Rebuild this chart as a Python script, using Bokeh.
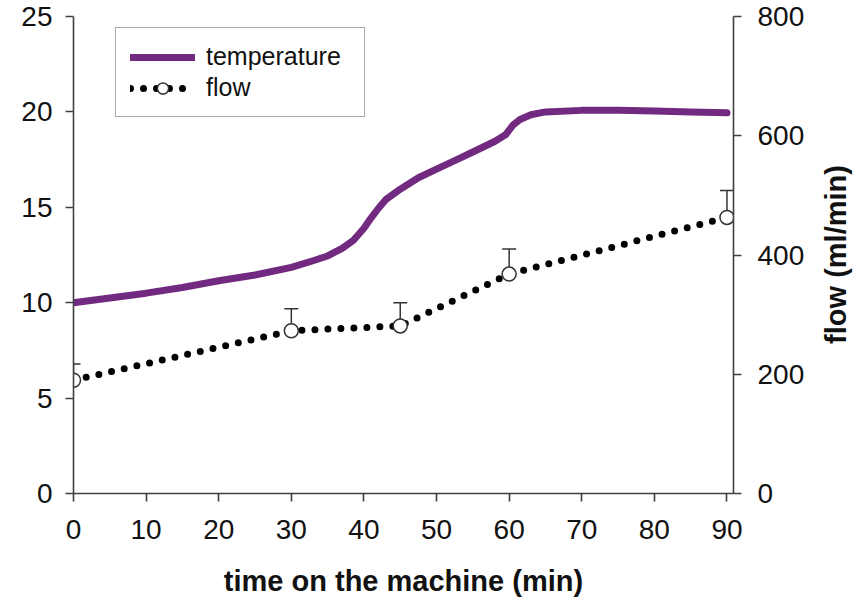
import math
from bokeh.plotting import figure
from bokeh.layouts import row
from bokeh.models import LinearAxis, Range1d, Legend, LegendItem, FixedTicker, Label
from bokeh.embed import file_html
from bokeh.resources import INLINE

# ---- data ----
temp_time = [0, 5, 10, 15, 20, 25, 30, 33, 35, 37, 38.5, 40, 41, 42, 43, 45, 47.5, 50,
             52.5, 55, 58, 59.5, 60.5, 61.5, 63, 65, 70, 75, 80, 85, 90]
temperature = [10.0, 10.25, 10.5, 10.8, 11.15, 11.45, 11.85, 12.2, 12.45, 12.85, 13.25,
               13.9, 14.45, 14.95, 15.4, 15.95, 16.55, 17.0, 17.45, 17.9, 18.45, 18.8,
               19.3, 19.6, 19.85, 20.0, 20.08, 20.08, 20.05, 20.0, 19.95]

flow_time = [0, 30, 45, 60, 90]
flow_mean = [190, 273, 281, 368, 463]
flow_upper = [217, 310, 320, 410, 508]

x_ticks = [0, 10, 20, 30, 40, 50, 60, 70, 80, 90]
left_ticks = [0, 5, 10, 15, 20, 25]
right_ticks = [0, 200, 400, 600, 800]

x_title = "time on the machine (min)"
right_title = "flow (ml/min)"

FONT = "Liberation Sans"
PURPLE = "#722A81"
AXIS = "#404040"

MAIN_W, SIDE_W, H = 820, 45, 599

p = figure(width=MAIN_W, height=H, x_range=Range1d(0, 90.9), y_range=Range1d(0, 25),
           output_backend="svg", toolbar_location=None,
           min_border_left=73, min_border_right=MAIN_W - 733, min_border_top=16,
           min_border_bottom=103)
p.extra_y_ranges = {"flow": Range1d(0, 800)}
p.outline_line_color = None
p.grid.visible = False
p.background_fill_color = "white"
p.border_fill_color = "white"

right = LinearAxis(y_range_name="flow")
p.add_layout(right, "right")

p.xaxis.axis_label = x_title
p.xaxis.ticker = FixedTicker(ticks=x_ticks)
p.yaxis[0].ticker = FixedTicker(ticks=left_ticks)
right.ticker = FixedTicker(ticks=right_ticks)

for ax in [p.xaxis[0], p.yaxis[0], right]:
    ax.axis_line_color = AXIS
    ax.axis_line_width = 1.6
    ax.major_tick_line_color = AXIS
    ax.major_tick_line_width = 1.6
    ax.major_tick_in = 0
    ax.major_tick_out = 8
    ax.minor_tick_line_color = None
    ax.major_label_text_font = FONT
    ax.major_label_text_font_size = "28px"
    ax.major_label_text_color = "#111111"
    ax.axis_label_text_font = FONT
    ax.axis_label_text_font_size = "29px"
    ax.axis_label_text_font_style = "bold"
    ax.axis_label_text_color = "#111111"

p.xaxis.major_label_standoff = 18
p.xaxis.axis_label_standoff = 23
p.yaxis[0].major_label_standoff = 13
right.major_label_standoff = 16

# temperature
temp_r = p.line(temp_time, temperature, line_color=PURPLE, line_width=7, line_cap="round",
                line_join="round")

# flow error bars (upper only)
p.segment(x0=flow_time, y0=flow_mean, x1=flow_time, y1=flow_upper, y_range_name="flow",
          line_color="#333333", line_width=1.5)
p.scatter(flow_time, flow_upper, marker="dash", size=14, line_color="#333333", line_width=1.5,
          y_range_name="flow")

flow_line = p.line(flow_time, flow_mean, y_range_name="flow", line_color="black", line_width=7,
                   line_dash="0 13", line_cap="round")
flow_pts = p.scatter(flow_time, flow_mean, y_range_name="flow", marker="circle", size=14,
                     fill_color="white", line_color="#333333", line_width=1.5)

legend = Legend(items=[LegendItem(label="temperature", renderers=[temp_r]),
                       LegendItem(label="flow", renderers=[flow_line, flow_pts])],
                location=(42, 376))
legend.label_text_font = FONT
legend.label_text_font_size = "25px"
legend.label_text_color = "#111111"
legend.glyph_width = 65
legend.glyph_height = 28
legend.label_height = 28
legend.label_width = 144
legend.label_standoff = 11
legend.spacing = 2
legend.padding = 14
legend.margin = 0
legend.border_line_color = "#555555"
legend.border_line_width = 1.5
legend.background_fill_alpha = 1
p.add_layout(legend)

# narrow side panel carrying the right-axis title, reading bottom-to-top
side = figure(width=SIDE_W, height=H, output_backend="svg", toolbar_location=None,
              x_range=Range1d(0, 1), y_range=Range1d(0, 1), min_border=0)
side.axis.visible = False
side.grid.visible = False
side.outline_line_color = None
side.border_fill_color = "white"
side.add_layout(Label(x=15, y=239, x_units="screen", y_units="screen", text=right_title,
                      angle=math.pi / 2, text_align="center", text_baseline="middle",
                      text_font=FONT, text_font_size="29px", text_font_style="bold",
                      text_color="#111111"))

layout = row(p, side, spacing=0)
open("out.html", "w").write(file_html(layout, INLINE))
